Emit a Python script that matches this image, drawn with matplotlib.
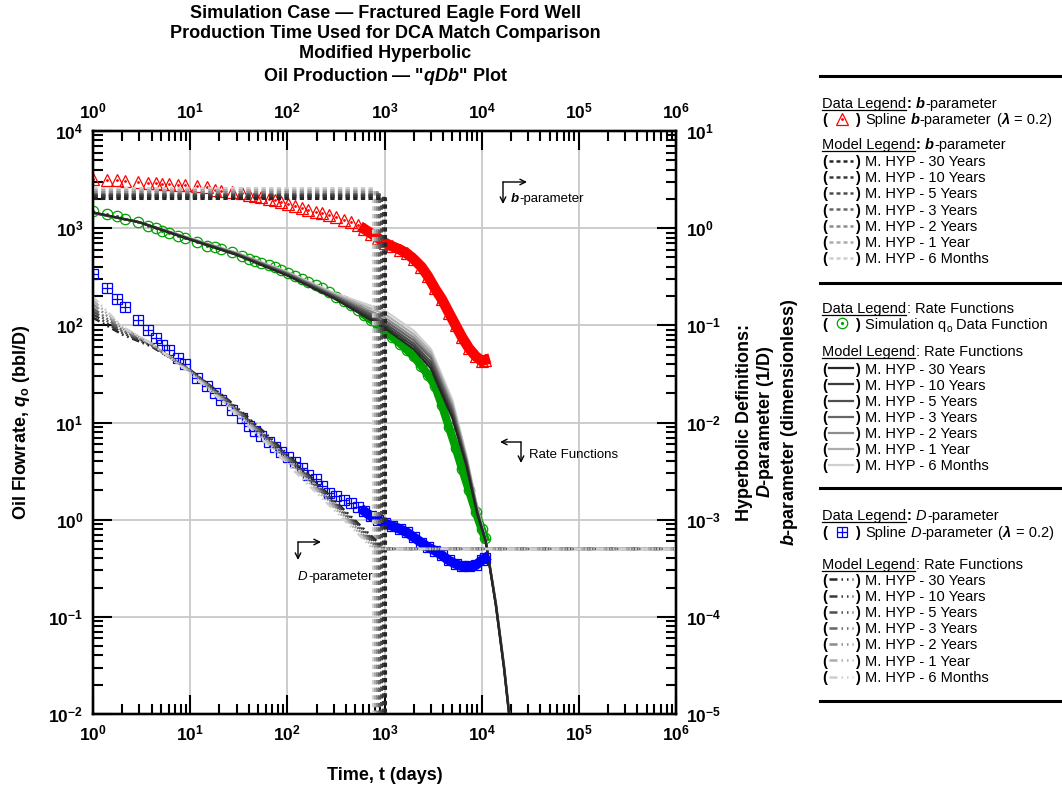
import numpy as np
import matplotlib
matplotlib.use('Agg')
import matplotlib.pyplot as plt
from matplotlib.lines import Line2D
from matplotlib.ticker import FixedLocator, FixedFormatter, LogLocator, NullFormatter

plt.rcParams['font.family'] = ['Liberation Sans', 'DejaVu Sans']
plt.rcParams['mathtext.fontset'] = 'custom'
plt.rcParams['mathtext.rm'] = 'Liberation Sans:bold'
plt.rcParams['mathtext.bf'] = 'Liberation Sans:bold'
plt.rcParams['mathtext.it'] = 'Liberation Sans:italic:bold'

# ---- data ----
t_data = [1, 1.38, 1.75, 2.13, 2.9, 3.7, 4.4, 5.1, 6, 7.5, 8.8, 11.7, 14.8, 18, 21,
          27, 34, 40, 46, 54, 64, 75, 87, 102, 120, 140, 165, 195, 230, 270, 320,
          380, 450, 530, 620, 730, 860, 1000, 1200, 1450, 1700, 2000, 2400, 2800,
          3300, 3900, 4600, 5400, 6300, 7400, 8700, 10000, 10800]
b_data = [3.2, 3.13, 3.1, 3.08, 2.98, 2.94, 2.9, 2.88, 2.85, 2.8, 2.76, 2.72, 2.63,
          2.5, 2.44, 2.36, 2.28, 2.22, 2.16, 2.08, 2.01, 1.93, 1.85, 1.77, 1.68, 1.62,
          1.55, 1.48, 1.42, 1.36, 1.3, 1.22, 1.15, 1.07, 0.98, 0.88, 0.79, 0.71, 0.65,
          0.6, 0.55, 0.48, 0.4, 0.32, 0.24, 0.185, 0.135, 0.1, 0.075, 0.058, 0.048,
          0.043, 0.044]
q_data = [1514, 1400, 1344, 1242, 1150, 1060, 997, 936, 885, 830, 787, 716, 661, 636,
          607, 565, 518, 486, 463, 438, 415, 396, 371, 348, 325, 303, 282, 262, 240,
          220, 198, 178, 160, 145, 128, 114, 100, 88, 76, 65, 56, 48, 38, 31, 24, 15,
          9, 5.5, 3.3, 2.0, 1.2, 0.8, 0.65]
D_data = [0.337, 0.242, 0.187, 0.155, 0.114, 0.09, 0.074, 0.063, 0.056, 0.046, 0.04,
          0.029, 0.024, 0.02, 0.017, 0.0135, 0.011, 0.0093, 0.0082, 0.0072, 0.0063,
          0.0056, 0.005, 0.0044, 0.0039, 0.0034, 0.0029, 0.0026, 0.0022, 0.0019,
          0.00175, 0.0016, 0.00147, 0.00135, 0.00122, 0.00108, 0.001, 0.00092,
          0.00086, 0.0008, 0.00074, 0.00066, 0.00058, 0.00052, 0.00048, 0.00043,
          0.00038, 0.00035, 0.00033, 0.00033, 0.00034, 0.00038, 0.0004]

durations = ['30 Years', '10 Years', '5 Years', '3 Years', '2 Years', '1 Year', '6 Months']
model_colors = ['#262626', '#3a3a3a', '#4f4f4f', '#666666', '#8c8c8c', '#adadad', '#cfcfcf']

# modified hyperbolic models (rows: 30 yr ... 6 months)
b_model = [2.04, 2.12, 2.19, 2.27, 2.35, 2.47, 2.59]
t_switch = [1005, 960, 920, 880, 840, 800, 760]
D_lim = 5e-4
b_after = 1e-9  # b = 0 after switch (off the log axis)

t_q = [1, 3, 10, 30, 100, 300, 1000, 2000, 3000, 5000, 7000, 9000, 11000, 14000, 17000, 20000]
q_model = [
    [1455, 1150, 760, 530, 325, 190, 94, 57, 36, 11, 3.5, 1.15, 0.6, 0.13, 0.029, 0.0066],
    [1450, 1150, 765, 535, 330, 194, 100, 61, 39, 11.8, 3.6, 1.18, 0.6, 0.132, 0.0295, 0.0067],
    [1445, 1150, 770, 540, 335, 198, 106, 65, 42, 12.6, 3.8, 1.2, 0.6, 0.134, 0.030, 0.0068],
    [1440, 1150, 775, 545, 340, 202, 113, 70, 46, 13.6, 3.95, 1.23, 0.61, 0.136, 0.0305, 0.0069],
    [1435, 1150, 780, 550, 345, 206, 121, 75, 49, 14.6, 4.1, 1.26, 0.61, 0.138, 0.031, 0.007],
    [1430, 1150, 785, 555, 350, 211, 131, 81, 53, 15.7, 4.3, 1.3, 0.62, 0.14, 0.0315, 0.0071],
    [1425, 1150, 790, 560, 355, 216, 142, 88, 57, 17, 4.5, 1.35, 0.62, 0.142, 0.032, 0.0072],
]
t_D = [1, 2, 4, 10, 25, 60, 150, 400]
D_model = [
    [0.12, 0.0806, 0.0606, 0.0348, 0.0169, 0.0077, 0.0032, 0.00121],
    [0.13, 0.0838, 0.0618, 0.0346, 0.0165, 0.0074, 0.0031, 0.00117],
    [0.14, 0.0868, 0.0629, 0.0344, 0.0162, 0.0072, 0.0030, 0.00113],
    [0.15, 0.0892, 0.0635, 0.0341, 0.0158, 0.0070, 0.0029, 0.00109],
    [0.165, 0.0929, 0.0647, 0.0338, 0.0154, 0.0068, 0.0028, 0.00106],
    [0.18, 0.0953, 0.0648, 0.0331, 0.0149, 0.0065, 0.0027, 0.00101],
    [0.195, 0.097, 0.0646, 0.0322, 0.0143, 0.0062, 0.0025, 0.00096],
]

RED, GREEN, BLUE = '#ff0000', '#00a000', '#0000ff'
B_LS = (0, (1.4, 1.1))
D_LS = (0, (3, 1.5, 0.7, 1.5, 0.7, 1.5))

W, H = 1062, 790
fig = plt.figure(figsize=(W / 100, H / 100), dpi=100)
ax = fig.add_axes([93 / W, 1 - 714 / H, 583 / W, 583 / H])
ax.set_xscale('log')
ax.set_yscale('log')
ax.set_xlim(1, 1e6)
ax.set_ylim(1e-2, 1e4)
ax2 = ax.twinx()
ax2.set_yscale('log')
ax2.set_ylim(1e-5, 10)
ax3 = ax.twiny()
ax3.set_xscale('log')
ax3.set_xlim(1, 1e6)

t = np.array(t_data)
dense = t >= 600

# rate data + models (left axis)
ax.plot(t[dense], np.array(q_data)[dense], color=GREEN, lw=6, zorder=2)
ax.plot(t_data, q_data, ls='none', marker='o', ms=7.5, mfc='none', mec=GREEN, mew=0.9, zorder=2)
ax.plot(t_data, q_data, ls='none', marker='.', ms=2.5, color=GREEN, zorder=2)
for i in range(6, -1, -1):
    ax.plot(t_q, q_model[i], color=model_colors[i], lw=1.6, zorder=3)

# b and D data + models (right axis)
ax2.plot(t[dense], np.array(b_data)[dense], color=RED, lw=7.5, zorder=2)
ax2.plot(t_data, b_data, ls='none', marker='^', ms=8, mfc='none', mec=RED, mew=0.9, zorder=2)
ax2.plot(t_data, b_data, ls='none', marker='.', ms=2, color=RED, zorder=2)
ax2.plot(t[dense], np.array(D_data)[dense], color=BLUE, lw=7, zorder=2)
ax2.plot(t_data, D_data, ls='none', marker='s', ms=7, mfc='none', mec=BLUE, mew=0.9, zorder=2)
ax2.plot(t_data, D_data, ls='none', marker='+', ms=7, mec=BLUE, mew=0.9, zorder=2)
for i in range(6, -1, -1):
    ax2.plot([1, t_switch[i], t_switch[i]], [b_model[i], b_model[i], b_after],
             color=model_colors[i], lw=2.2, ls=B_LS, zorder=3)
for i in range(7):
    ax2.plot(t_D + [t_switch[i], 1e6], D_model[i] + [D_lim, D_lim],
             color=model_colors[i], lw=1.8, ls=D_LS, zorder=3)


def log_ticks(axis, lo, hi):
    exps = list(range(lo, hi + 1))
    axis.set_major_locator(FixedLocator([10.0 ** e for e in exps]))
    axis.set_major_formatter(FixedFormatter([r'$10^{%d}$' % e for e in exps]))
    axis.set_minor_locator(LogLocator(base=10, subs=np.arange(2, 10), numticks=50))
    axis.set_minor_formatter(NullFormatter())


log_ticks(ax.xaxis, 0, 6)
log_ticks(ax.yaxis, -2, 4)
log_ticks(ax2.yaxis, -5, 1)
log_ticks(ax3.xaxis, 0, 6)
ax.tick_params(which='both', direction='in', width=1.5, top=False, right=False, labelsize=12.5)
ax2.tick_params(axis='y', which='both', direction='in', width=1.5, labelsize=12.5)
ax3.tick_params(axis='x', which='both', direction='in', width=1.5, labelsize=12.5)
for a in (ax, ax2, ax3):
    a.tick_params(which='major', length=14, pad=7)
    a.tick_params(which='minor', length=7)
    for sp in a.spines.values():
        sp.set_linewidth(1.6)
ax.grid(True, which='major', color='#c8c8c8', lw=1.3)
ax.set_axisbelow(True)

# titles and axis labels
fig.text(385 / W, 1 - 46 / H,
         'Simulation Case \u2014 Fractured Eagle Ford Well\n'
         'Production Time Used for DCA Match Comparison\n'
         'Modified Hyperbolic\n'
         'Oil Production \u2014 "$qDb$" Plot',
         ha='center', va='center', fontsize=13, fontweight='bold', linespacing=1.22)
fig.text(385 / W, 1 - 776 / H, 'Time, t (days)', ha='center', va='center',
         fontsize=13, fontweight='bold')
fig.text(22 / W, 1 - 422 / H, r'Oil Flowrate, $q_\mathrm{o}$ (bbl/D)', rotation=90,
         ha='center', va='center', fontsize=13, fontweight='bold')
fig.text(768 / W, 1 - 422 / H,
         'Hyperbolic Definitions:\n$D$-parameter (1/D)\n$b$-parameter (dimensionless)',
         rotation=90, ha='center', va='center', multialignment='center',
         fontsize=13, fontweight='bold', linespacing=1.15)

renderer = fig.canvas.get_renderer()


def runs(x, yc, parts, size=10.5):
    yb = yc + 0.36 * size * 100 / 72
    for part in parts:
        if isinstance(part, (int, float)):
            x += part
            continue
        s, st = part
        kw = dict(fontsize=size, fontweight='bold' if 'b' in st else 'normal',
                  fontstyle='italic' if 'i' in st else 'normal')
        y = yb
        if 's' in st:
            kw['fontsize'] = size * 0.7
            y = yb + 3
        tx = fig.text(x / W, 1 - y / H, s, ha='left', va='baseline', **kw)
        w = tx.get_window_extent(renderer).width
        if 'u' in st:
            fig.add_artist(Line2D([x / W, (x + w) / W], [1 - (yb + 2) / H] * 2,
                                  color='k', lw=0.9, transform=fig.transFigure))
        x += w + 0.5
    return x


def arrow(x0, y0, x1, y1):
    ax.annotate('', xy=(x1, H - y1), xytext=(x0, H - y0), xycoords='figure pixels',
                textcoords='figure pixels',
                arrowprops=dict(arrowstyle='->', lw=1, color='k', shrinkA=0, shrinkB=0))


# in-plot annotations
arrow(503, 182, 503, 204)
arrow(503, 182, 527, 182)
runs(511, 197, [('b', 'bi'), ('-parameter', 'r')], size=9.5)
arrow(521, 442, 500, 442)
arrow(521, 442, 521, 463)
runs(529, 453, [('Rate Functions', 'r')], size=9.5)
arrow(298, 542, 321, 542)
arrow(298, 542, 298, 560)
runs(298, 575, [('D', 'i'), ('-parameter', 'r')], size=9.5)


# legend panel
def fline(x0, x1, y, **kw):
    fig.add_artist(Line2D([x0 / W, x1 / W], [1 - y / H] * 2, transform=fig.transFigure, **kw))


def fmark(x, y, **kw):
    fig.add_artist(Line2D([x / W], [1 - y / H], transform=fig.transFigure, ls='none', **kw))


def parens(y):
    runs(822, y, [('(', 'b')])
    runs(855, y, [(')', 'b')])


for y in [76, 283, 488, 701]:
    fline(820, 1062, y, color='k', lw=2.2)

# section 1: b-parameter
runs(822, 102.3, [('Data Legend', 'u'), (':', 'b'), 4, ('b', 'bi'), ('-parameter', 'r')])
parens(119)
fmark(842, 119, marker='^', ms=8, mfc='none', mec=RED, mew=0.9)
fmark(842, 119, marker='.', ms=2, color=RED)
runs(865, 119, [('Spline', 'r'), 4, ('b', 'bi'), ('-parameter', 'r'), 4, ('(', 'r'),
                ('\u03bb', 'bi'), 4, ('= 0.2)', 'r')])
runs(822, 144, [('Model Legend', 'u'), (':', 'b'), 4, ('b', 'bi'), ('-parameter', 'r')])
for i, lab in enumerate(durations):
    y = 160.7 + 16.2 * i
    parens(y)
    fline(829, 853, y, color=model_colors[i], lw=1.8, ls=(0, (1.6, 1.2)))
    runs(865, y, [('M. HYP - ' + lab, 'r')])

# section 2: rate functions
runs(822, 307.3, [('Data Legend', 'u'), (':', 'r'), 4, ('Rate Functions', 'r')])
parens(323.3)
fmark(842, 323.3, marker='o', ms=7.5, mfc='none', mec=GREEN, mew=0.9)
fmark(842, 323.3, marker='.', ms=2.5, color=GREEN)
runs(865, 323.3, [('Simulation q', 'r'), ('o', 's'), 3, ('Data Function', 'r')])
runs(822, 350.7, [('Model Legend', 'u'), (':', 'r'), 4, ('Rate Functions', 'r')])
for i, lab in enumerate(durations):
    y = 368.3 + 16.1 * i
    parens(y)
    fline(829, 853, y, color=model_colors[i], lw=1.6)
    runs(865, y, [('M. HYP - ' + lab, 'r')])

# section 3: D-parameter
runs(822, 515, [('Data Legend', 'u'), (':', 'b'), 4, ('D', 'i'), ('-parameter', 'r')])
parens(531.7)
fmark(842, 531.7, marker='s', ms=7, mfc='none', mec=BLUE, mew=0.9)
fmark(842, 531.7, marker='+', ms=7, mec=BLUE, mew=0.9)
runs(865, 531.7, [('Spline', 'r'), 4, ('D', 'i'), ('-parameter', 'r'), 4, ('(', 'r'),
                  ('\u03bb', 'bi'), 4, ('= 0.2)', 'r')])
runs(822, 563.3, [('Model Legend', 'u'), (':', 'r'), 4, ('Rate Functions', 'r')])
for i, lab in enumerate(durations):
    y = 579.3 + 16.2 * i
    parens(y)
    fline(829, 853, y, color=model_colors[i], lw=1.8, ls=(0, (3.2, 1.6, 0.6, 1.6, 0.6, 1.6)))
    runs(865, y, [('M. HYP - ' + lab, 'r')])

fig.savefig('out.png', dpi=100)
